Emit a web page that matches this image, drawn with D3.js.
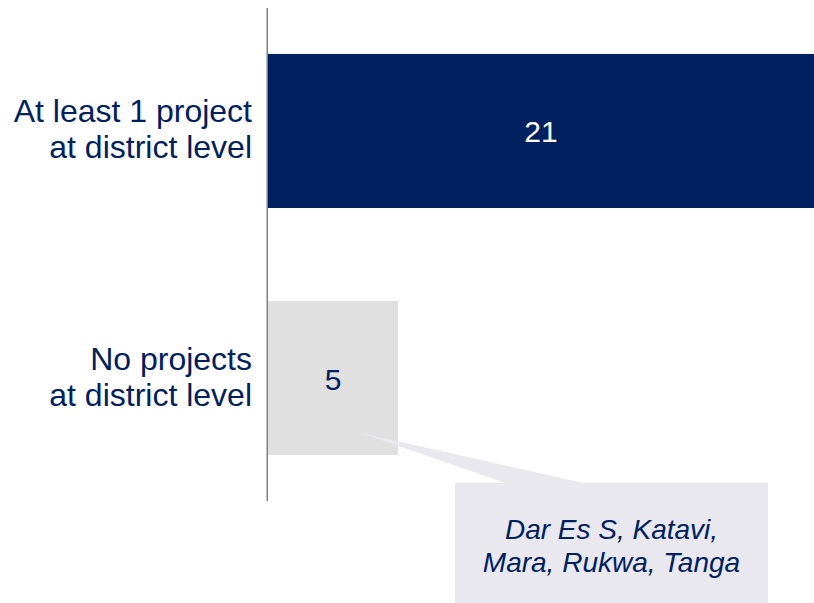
<!DOCTYPE html>
<html>
<head>
<meta charset="utf-8">
<script src="https://cdn.jsdelivr.net/npm/d3@7"></script>
<style>
  html, body { margin: 0; padding: 0; background: #ffffff; }
  svg { display: block; }
  text { font-family: "Liberation Sans", Arial, sans-serif; }
</style>
</head>
<body>
<svg id="chart" width="814" height="603"></svg>
<script>
// Regions grouped by district-level project coverage
const categories = ["At least 1 project at district level", "No projects at district level"];
const labelLines = [["At least 1 project", "at district level"], ["No projects", "at district level"]];
const counts = [21, 5];
const calloutRegions = ["Dar Es S", "Katavi", "Mara", "Rukwa", "Tanga"];

const NAVY = "#002060";
const barFills = [NAVY, "#e0e0e0"];
const valueFills = ["#ffffff", NAVY];
const CALLOUT = "#e8e8ee";

const svg = d3.select("#chart");

const x = d3.scaleLinear().domain([0, 21]).range([268, 814]);
const y = d3.scaleBand()
  .domain(categories)
  .range([8, 501])
  .paddingInner(0.3765)
  .paddingOuter(0.186);

// Bars
svg.append("g").selectAll("rect")
  .data(categories)
  .join("rect")
  .attr("x", x(0))
  .attr("y", d => y(d))
  .attr("width", (d, i) => x(counts[i]) - x(0))
  .attr("height", y.bandwidth())
  .attr("fill", (d, i) => barFills[i]);

// Vertical category axis line
svg.append("line")
  .attr("x1", x(0) - 0.75).attr("x2", x(0) - 0.75)
  .attr("y1", y.range()[0]).attr("y2", y.range()[1])
  .attr("stroke", "#808080")
  .attr("stroke-width", 1.5);

// Category labels, right-aligned against the axis
const labels = svg.append("g").selectAll("text")
  .data(categories)
  .join("text")
  .attr("text-anchor", "end")
  .attr("font-size", 32)
  .attr("fill", NAVY);
labels.each(function(d, i) {
  const cy = y(d) + y.bandwidth() / 2;
  d3.select(this).selectAll("tspan")
    .data(labelLines[i])
    .join("tspan")
    .attr("x", 252)
    .attr("y", (t, j) => cy - 8.5 + j * 36)
    .text(t => t);
});

// Value labels centred in each bar
svg.append("g").selectAll("text")
  .data(categories)
  .join("text")
  .attr("x", (d, i) => (x(0) + x(counts[i])) / 2)
  .attr("y", d => y(d) + y.bandwidth() / 2 + 11.5)
  .attr("text-anchor", "middle")
  .attr("font-size", 30)
  .attr("fill", (d, i) => valueFills[i])
  .text((d, i) => counts[i]);

// Callout listing the regions without district-level projects
const target = categories[1];
const tip = [x(0) + (x(counts[1]) - x(0)) * 0.71, y(target) + y.bandwidth() * 0.855];
const box = { x0: 455, x1: 768, y0: 483, y1: 604 };

svg.append("path")
  .attr("d", d3.line()([[tip[0], tip[1]], [585, box.y0 + 0.5], [507, box.y0 + 0.5]]) + "Z")
  .attr("fill", CALLOUT);

svg.append("rect")
  .attr("x", box.x0).attr("y", box.y0)
  .attr("width", box.x1 - box.x0).attr("height", box.y1 - box.y0)
  .attr("fill", CALLOUT);

const calloutLines = [
  calloutRegions.slice(0, 2).join(", ") + ",",
  calloutRegions.slice(2).join(", ")
];
svg.append("text")
  .attr("text-anchor", "middle")
  .attr("font-size", 28)
  .attr("font-style", "italic")
  .attr("fill", NAVY)
  .selectAll("tspan")
  .data(calloutLines)
  .join("tspan")
  .attr("x", (box.x0 + box.x1) / 2)
  .attr("y", (d, i) => 539 + i * 33)
  .text(d => d);
</script>
</body>
</html>
